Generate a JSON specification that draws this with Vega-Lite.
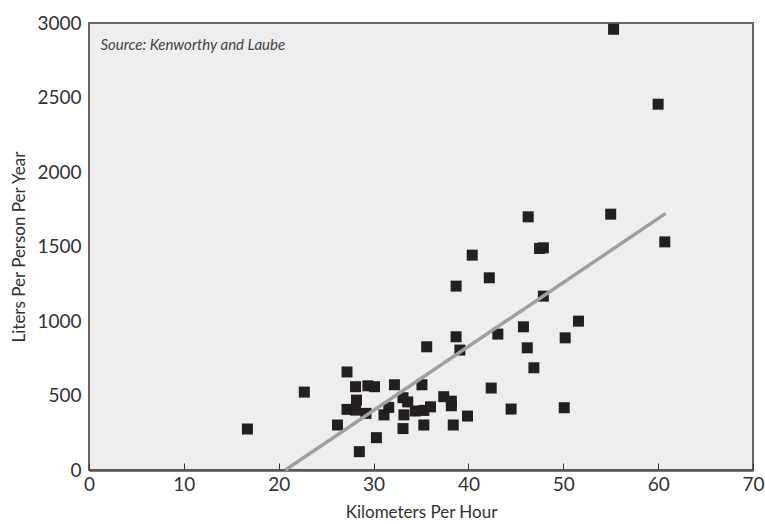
{
  "$schema": "https://vega.github.io/schema/vega-lite/v6.json",
  "autosize": "none",
  "width": 664,
  "height": 447,
  "padding": {"left": 89, "top": 23, "right": 12, "bottom": 54},
  "background": "#ffffff",
  "config": {
    "view": {"fill": "#eeeeee", "stroke": "#666666", "strokeWidth": 2},
    "axis": {"labelFont": "Lato", "titleFont": "Lato", "labelColor": "#333333", "titleColor": "#333333", "labelFontSize": 19, "titleFontSize": 17, "titleFontWeight": "normal", "grid": false}
  },
  "datasets": {
    "pts": [
      {"kmh": 16.7, "liters": 275}, {"kmh": 22.7, "liters": 523}, {"kmh": 27.2, "liters": 658},
      {"kmh": 28.1, "liters": 559}, {"kmh": 29.4, "liters": 565}, {"kmh": 30.1, "liters": 559},
      {"kmh": 32.2, "liters": 572}, {"kmh": 35.1, "liters": 572}, {"kmh": 28.2, "liters": 469},
      {"kmh": 27.2, "liters": 407}, {"kmh": 28.1, "liters": 402}, {"kmh": 29.2, "liters": 380},
      {"kmh": 31.1, "liters": 370}, {"kmh": 31.6, "liters": 420}, {"kmh": 33.1, "liters": 485},
      {"kmh": 33.6, "liters": 457}, {"kmh": 33.2, "liters": 370}, {"kmh": 34.4, "liters": 396},
      {"kmh": 35.3, "liters": 400}, {"kmh": 36.0, "liters": 424}, {"kmh": 37.4, "liters": 492},
      {"kmh": 38.2, "liters": 462}, {"kmh": 38.2, "liters": 431}, {"kmh": 26.2, "liters": 302},
      {"kmh": 33.1, "liters": 278}, {"kmh": 35.3, "liters": 302}, {"kmh": 30.3, "liters": 217},
      {"kmh": 28.5, "liters": 123}, {"kmh": 35.6, "liters": 827}, {"kmh": 46.3, "liters": 1699},
      {"kmh": 55.0, "liters": 1717}, {"kmh": 40.4, "liters": 1442}, {"kmh": 47.5, "liters": 1487},
      {"kmh": 47.9, "liters": 1491}, {"kmh": 42.2, "liters": 1290}, {"kmh": 38.7, "liters": 1234},
      {"kmh": 47.9, "liters": 1167}, {"kmh": 51.6, "liters": 999}, {"kmh": 45.8, "liters": 961},
      {"kmh": 43.1, "liters": 912}, {"kmh": 38.7, "liters": 894}, {"kmh": 50.2, "liters": 887},
      {"kmh": 39.1, "liters": 805}, {"kmh": 46.2, "liters": 820}, {"kmh": 46.9, "liters": 686},
      {"kmh": 42.4, "liters": 550}, {"kmh": 44.5, "liters": 409}, {"kmh": 50.1, "liters": 418},
      {"kmh": 39.9, "liters": 362}, {"kmh": 38.4, "liters": 302}, {"kmh": 55.3, "liters": 2958},
      {"kmh": 60.0, "liters": 2455}, {"kmh": 60.7, "liters": 1531}
    ],
    "fit": [
      {"kmh": 20.7, "liters": 0},
      {"kmh": 60.8, "liters": 1722}
    ],
    "note": [
      {"kmh": 1.2, "liters": 2850, "label": "Source: Kenworthy and Laube"}
    ]
  },
  "layer": [
    {
      "data": {"name": "pts"},
      "mark": {"type": "square", "size": 121, "color": "#231f20", "opacity": 1, "filled": true},
      "encoding": {
        "x": {
          "field": "kmh", "type": "quantitative",
          "scale": {"domain": [0, 70], "nice": false, "zero": false},
          "axis": {"title": "Kilometers Per Hour", "values": [0, 10, 20, 30, 40, 50, 60, 70], "format": "d", "tickSize": -7, "tickColor": "#333333", "tickWidth": 1, "domainColor": "#555555", "domainWidth": 2.5, "labelPadding": 12, "titlePadding": 10, "labelFlush": false}
        },
        "y": {
          "field": "liters", "type": "quantitative",
          "scale": {"domain": [0, 3000], "nice": false},
          "axis": {"title": "Liters Per Person Per Year", "values": [0, 500, 1000, 1500, 2000, 2500, 3000], "format": "d", "ticks": false, "domain": false, "labelPadding": 8, "titlePadding": 8, "labelFlush": false}
        }
      }
    },
    {
      "data": {"name": "fit"},
      "mark": {"type": "line", "color": "#a0a0a0", "strokeWidth": 3.5},
      "encoding": {
        "x": {"field": "kmh", "type": "quantitative"},
        "y": {"field": "liters", "type": "quantitative"}
      }
    },
    {
      "data": {"name": "note"},
      "mark": {"type": "text", "align": "left", "baseline": "middle", "font": "Lato", "fontSize": 15, "fontStyle": "italic", "color": "#444444"},
      "encoding": {
        "x": {"field": "kmh", "type": "quantitative"},
        "y": {"field": "liters", "type": "quantitative"},
        "text": {"field": "label"}
      }
    }
  ]
}
